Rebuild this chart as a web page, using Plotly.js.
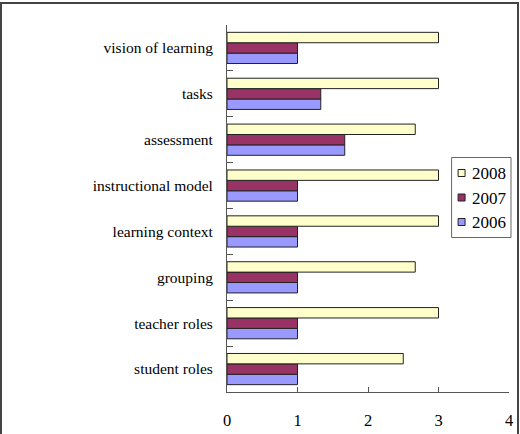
<!DOCTYPE html>
<html>
<head>
<meta charset="utf-8">
<script src="https://cdn.plot.ly/plotly-3.0.1.min.js"></script>
<style>
html,body{margin:0;padding:0;background:#fff;overflow:hidden;}
#wrap{position:relative;width:520px;height:434px;overflow:hidden;}
#chart{width:520px;height:434px;}
#frame{position:absolute;left:0;top:2px;width:515px;height:460px;border:2px solid #444;pointer-events:none;}
</style>
</head>
<body>
<div id="wrap"><div id="chart"></div><div id="frame"></div></div>
<script>
// categories listed bottom-to-top
const categories = ["student roles","teacher roles","grouping","learning context","instructional model","assessment","tasks","vision of learning"];
const v2006 = [1, 1, 1, 1, 1, 1.67, 1.33, 1];
const v2007 = [1, 1, 1, 1, 1, 1.67, 1.33, 1];
const v2008 = [2.5, 3, 2.67, 3, 3, 2.67, 3, 3];
const seriesNames = ["2006","2007","2008"];
const colors = ["#9999FF","#993366","#FFFFCC"];
const values = [v2006, v2007, v2008];

const traces = values.map((v,i)=>({
  type:'bar', orientation:'h', name:seriesNames[i], x:v, y:categories, showlegend:false,
  marker:{color:colors[i], line:{color:'#222', width:1}}
}));

// plot-area geometry (pixels) used to place the legend box
const W = 520, H = 434, ML = 226.5, MR = 11, MT = 25, MB = 42;
const PW = W - ML - MR, PH = H - MT - MB;
const px = x => (x - ML) / PW;
const py = y => (H - MB - y) / PH;

const font = {family:'Liberation Serif, Times New Roman, serif', color:'#000'};

// custom legend (top-to-bottom: 2008, 2007, 2006)
const shapes = [{type:'rect', xref:'paper', yref:'paper', x0:px(451.5), x1:px(511), y0:py(157.5), y1:py(237.5),
  line:{color:'#666', width:1}, fillcolor:'#fff', layer:'above'}];
const annotations = [];
const rowY = [173, 197.5, 222];
[2,1,0].forEach((si,row)=>{
  const cy = rowY[row];
  shapes.push({type:'rect', xref:'paper', yref:'paper', x0:px(458), x1:px(465), y0:py(cy+3.5), y1:py(cy-3.5),
    line:{color:'#222', width:1}, fillcolor:colors[si], layer:'above'});
  annotations.push({xref:'paper', yref:'paper', x:px(470), y:py(cy+0.5), xanchor:'left', yanchor:'middle',
    text:seriesNames[si], showarrow:false, font:Object.assign({size:17}, font)});
});

const layout = {
  width:W, height:H,
  margin:{l:ML, r:MR, t:MT, b:MB, autoexpand:false},
  paper_bgcolor:'#fff', plot_bgcolor:'#fff',
  barmode:'group', bargap:0.32, bargroupgap:0,
  font:Object.assign({size:15.5}, font),
  xaxis:{range:[0,4], dtick:1, tick0:0, showgrid:false, zeroline:false, automargin:false,
    showline:true, linecolor:'#555', linewidth:1,
    ticks:'inside', ticklen:5, tickcolor:'#555',
    tickfont:Object.assign({size:16.5}, font), ticklabelstandoff:13},
  yaxis:{type:'category', categoryorder:'array', categoryarray:categories, automargin:false,
    showgrid:false, zeroline:false, showline:true, linecolor:'#555', linewidth:1,
    ticks:'inside', ticklen:6, tickcolor:'#555', tickson:'boundaries',
    tickfont:Object.assign({size:15.5}, font), ticklabelstandoff:10},
  shapes:shapes, annotations:annotations,
  showlegend:false
};
Plotly.newPlot('chart', traces, layout, {displayModeBar:false, staticPlot:true});
</script>
</body>
</html>
